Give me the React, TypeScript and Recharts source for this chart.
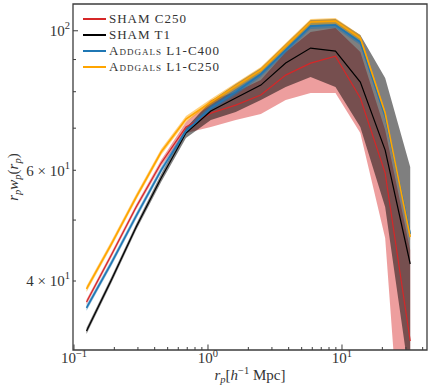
import { ComposedChart, Area, Line, XAxis, YAxis, Legend, ReferenceArea } from 'recharts';

// projected separation bin centres (h^-1 Mpc)
const rp = [0.124, 0.19, 0.291, 0.447, 0.685, 1.05, 1.61, 2.48, 3.8, 5.83, 8.94, 13.7, 21.0, 32.3];

// SHAM C250
const shamC250 = [37.05, 43.99, 52.45, 61.61, 70.29, 73.97, 76.17, 79.02, 85.02, 88.84, 91.15, 78.17, 59.39, 32.11];
const shamC250Lo = [36.71, 43.59, 51.97, 60.94, 68.76, 70.29, 72.11, 73.7, 77.6, 79.6, 79.6, 68.76, 46.82, 13.38];
const shamC250Hi = [37.38, 44.4, 52.93, 62.29, 71.58, 77.6, 79.89, 83.48, 92.51, 99.53, 100.99, 92.51, 69.52, 44.81];

// SHAM T1
const shamT1 = [33.31, 40.15, 48.74, 58.32, 68.76, 74.52, 78.17, 81.96, 88.84, 93.87, 92.84, 82.87, 64.61, 42.57];
const shamT1Lo = [32.95, 39.71, 48.21, 57.47, 67.51, 72.11, 74.26, 77.6, 81.36, 84.41, 81.36, 70.29, 52.45, 27.54];
const shamT1Hi = [33.68, 40.59, 49.28, 59.18, 70.04, 77.31, 82.26, 87.24, 95.25, 103.99, 104.38, 98.44, 84.1, 60.71];

// Addgals L1-C400
const addC400 = [36.25, 42.72, 50.75, 60.05, 69.26, 75.34, 79.89, 85.34, 93.18, 101.73, 102.11, 95.95, 73.16, 47.51];
const addC400Lo = [35.86, 42.26, 50.2, 59.4, 68.51, 74.52, 79.02, 84.41, 92.17, 100.62, 101.0, 94.91, 72.36, 46.99];
const addC400Hi = [36.65, 43.19, 51.31, 60.71, 70.02, 76.17, 80.77, 86.28, 94.21, 102.85, 103.23, 97.01, 73.97, 48.03];

// Addgals L1-C250
const addC250 = [38.85, 45.8, 54.39, 64.14, 72.37, 77.01, 81.66, 86.59, 94.55, 103.24, 103.61, 97.36, 73.97, 46.99];
const addC250Lo = [38.43, 45.3, 53.8, 63.44, 71.58, 76.17, 80.77, 85.65, 93.52, 102.12, 102.48, 96.3, 73.17, 46.48];
const addC250Hi = [39.28, 46.3, 54.99, 64.85, 73.17, 77.86, 82.56, 87.54, 95.59, 104.38, 104.75, 98.43, 74.78, 47.51];

const legendNames = ['SHAM C250', 'SHAM T1', 'Addgals L1-C400', 'Addgals L1-C250'];

const xDomain = [0.0983, 43.09];
const yDomain = [31.07, 110.3];
const xMajor = [0.1, 1, 10];
const xMinor = [0.2, 0.3, 0.4, 0.5, 0.6, 0.7, 0.8, 0.9, 2, 3, 4, 5, 6, 7, 8, 9, 20, 30, 40];
const xExp: Record<number, string> = { 0.1: '\u22121', 1: '0', 10: '1' };
const yTicks = [40, 50, 60, 70, 80, 90, 100];
const yLabels: Record<number, [string, string]> = { 40: ['4 \u00d7 ', '1'], 60: ['6 \u00d7 ', '1'], 100: ['', '2'] };

const RED = '#d62728';
const BLACK = '#000000';
const BLUE = '#1f77b4';
const ORANGE = '#ffa500';
const colors = [RED, BLACK, BLUE, ORANGE];
const AXIS = '#3c3c3c';
const TEXT = '#333333';
const SERIF = '"Liberation Serif", "DejaVu Serif", serif';

const data = rp.map((x, i) => ({
    rp: x,
    c250: shamC250[i],
    c250Band: [shamC250Lo[i], shamC250Hi[i]],
    t1: shamT1[i],
    t1Band: [shamT1Lo[i], shamT1Hi[i]],
    c400: addC400[i],
    c400Band: [addC400Lo[i], addC400Hi[i]],
    ac250: addC250[i],
    ac250Band: [addC250Lo[i], addC250Hi[i]],
}));

const XTick = ({ x, y, payload }: any) => {
    const v = payload.value;
    const major = xMajor.includes(v);
    return (
        <g>
            <line x1={x} y1={y} x2={x} y2={y - (major ? 5.5 : 3)} stroke={AXIS} strokeWidth={1} />
            {major && (
                <text x={x} y={y + 13} textAnchor="middle" fontFamily={SERIF} fontSize={15} fill={TEXT}>
                    10<tspan dy={-6} fontSize={10.5}>{xExp[v]}</tspan>
                </text>
            )}
        </g>
    );
};

const YTick = ({ x, y, payload }: any) => {
    const v = payload.value;
    const lab = yLabels[v];
    return (
        <g>
            <line x1={x} y1={y} x2={x + (v === 100 ? 5 : 3)} y2={y} stroke={AXIS} strokeWidth={1} />
            {lab && (
                <text x={x - 3} y={y + 5.3} textAnchor="end" fontFamily={SERIF} fontSize={15} fill={TEXT}>
                    {lab[0]}10<tspan dy={-7} fontSize={10.5}>{lab[1]}</tspan>
                </text>
            )}
        </g>
    );
};

const XLabel = ({ viewBox }: any) => (
    <text x={viewBox.x + viewBox.width / 2} y={viewBox.y + 30} textAnchor="middle" fontFamily={SERIF} fontSize={15} fill={TEXT}>
        <tspan fontStyle="italic">r</tspan>
        <tspan fontStyle="italic" fontSize={10.5} dy={3}>p</tspan>
        <tspan dy={-3}>[</tspan>
        <tspan fontStyle="italic">h</tspan>
        <tspan fontSize={10.5} dy={-6}>{'\u22121'}</tspan>
        <tspan dy={6}> Mpc]</tspan>
    </text>
);

const YLabel = ({ viewBox }: any) => {
    const cx = 18;
    const cy = viewBox.y + viewBox.height / 2;
    return (
        <text x={cx} y={cy} transform={`rotate(-90 ${cx} ${cy})`} textAnchor="middle" fontFamily={SERIF} fontSize={15} fill={TEXT}>
            <tspan fontStyle="italic">r</tspan>
            <tspan fontStyle="italic" fontSize={10.5} dy={3}>p</tspan>
            <tspan fontStyle="italic" dy={-3}>w</tspan>
            <tspan fontStyle="italic" fontSize={10.5} dy={3}>p</tspan>
            <tspan dy={-3}>(</tspan>
            <tspan fontStyle="italic">r</tspan>
            <tspan fontStyle="italic" fontSize={10.5} dy={3}>p</tspan>
            <tspan dy={-3}>)</tspan>
        </text>
    );
};

const LegendBox = () => (
    <div style={{ fontFamily: SERIF, fontSize: 13, color: TEXT, fontVariant: 'small-caps', letterSpacing: 1 }}>
        {legendNames.map((n, i) => (
            <div key={n} style={{ display: 'flex', alignItems: 'center', height: 15.8, lineHeight: '15.8px', whiteSpace: 'nowrap' }}>
                <span style={{ display: 'inline-block', width: 23, height: 2, background: colors[i], marginRight: 3 }} />
                <span>{n}</span>
            </div>
        ))}
    </div>
);

export default function App() {
    return (
        <div style={{ position: 'absolute', left: 0, top: 0, width: 432, height: 392, background: '#fff' }}>
            <ComposedChart width={432} height={392} data={data} margin={{ top: 4, right: 5, left: 0, bottom: 0 }}>
                <XAxis
                    dataKey="rp"
                    type="number"
                    scale="log"
                    domain={xDomain}
                    allowDataOverflow
                    ticks={[...xMajor, ...xMinor]}
                    interval={0}
                    height={42}
                    axisLine={false}
                    tickLine={false}
                    tickSize={0}
                    tickMargin={0}
                    tick={<XTick />}
                    label={<XLabel />}
                />
                <YAxis
                    type="number"
                    scale="log"
                    domain={yDomain}
                    allowDataOverflow
                    ticks={yTicks}
                    interval={0}
                    width={73}
                    axisLine={false}
                    tickLine={false}
                    tickSize={0}
                    tickMargin={0}
                    tick={<YTick />}
                    label={<YLabel />}
                />

                <Area type="linear" dataKey="c250Band" stroke="none" fill={RED} fillOpacity={0.45} isAnimationActive={false} dot={false} activeDot={false} />
                <Area type="linear" dataKey="t1Band" stroke="none" fill={BLACK} fillOpacity={0.5} isAnimationActive={false} dot={false} activeDot={false} />
                <Area type="linear" dataKey="c400Band" stroke="none" fill={BLUE} fillOpacity={0.5} isAnimationActive={false} dot={false} activeDot={false} />
                <Area type="linear" dataKey="ac250Band" stroke="none" fill={ORANGE} fillOpacity={0.5} isAnimationActive={false} dot={false} activeDot={false} />

                <Line type="linear" dataKey="c250" stroke={RED} strokeWidth={1.2} dot={false} activeDot={false} isAnimationActive={false} />
                <Line type="linear" dataKey="t1" stroke={BLACK} strokeWidth={1.2} dot={false} activeDot={false} isAnimationActive={false} />
                <Line type="linear" dataKey="c400" stroke={BLUE} strokeWidth={1.6} dot={false} activeDot={false} isAnimationActive={false} />
                <Line type="linear" dataKey="ac250" stroke={ORANGE} strokeWidth={1.6} dot={false} activeDot={false} isAnimationActive={false} />

                <ReferenceArea
                    x1={xDomain[0]}
                    x2={xDomain[1]}
                    y1={yDomain[0]}
                    y2={yDomain[1]}
                    fill="none"
                    fillOpacity={0}
                    stroke={AXIS}
                    strokeWidth={1.3}
                    ifOverflow="visible"
                />

                <Legend
                    layout="vertical"
                    align="center"
                    verticalAlign="middle"
                    wrapperStyle={{ left: 83, top: 11.4, width: 'auto' }}
                    content={<LegendBox />}
                />
            </ComposedChart>
        </div>
    );
}
